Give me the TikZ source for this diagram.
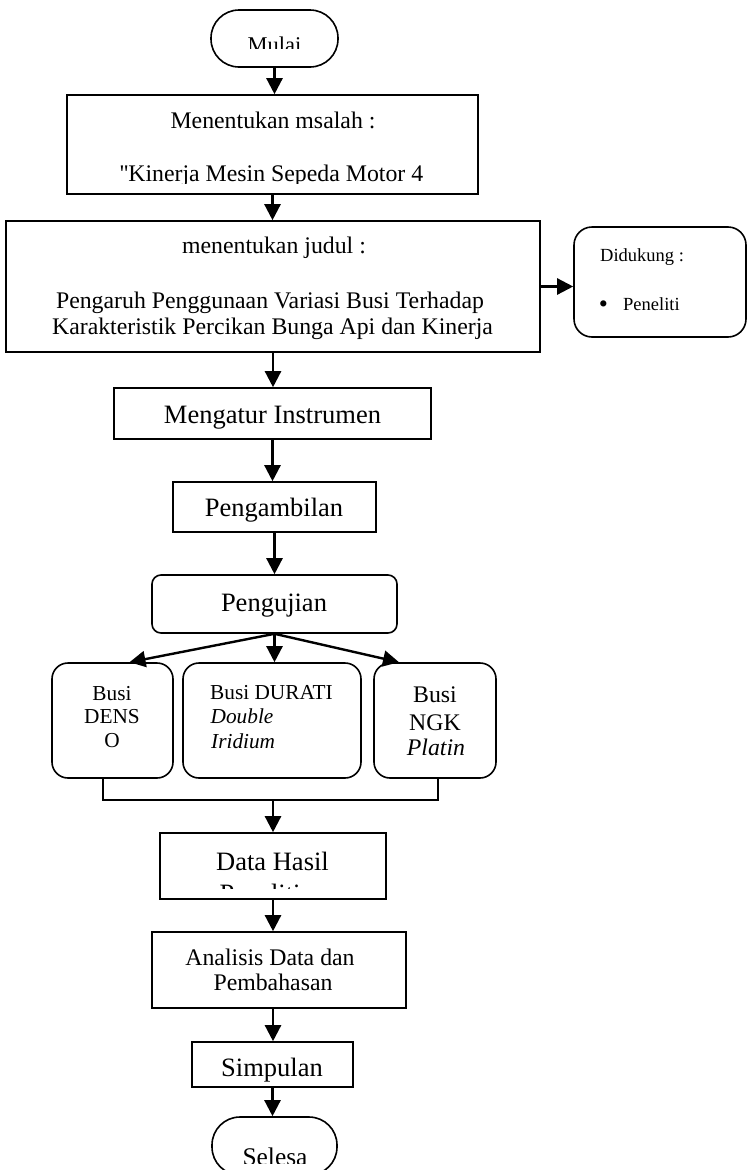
\documentclass[tikz,border=0pt]{standalone}
\usepackage{fontspec}
\setmainfont{Liberation Serif}
\newfontfamily\rawserif{Liberation Serif}
\usetikzlibrary{arrows.meta}
\newcommand\fsz[1]{\fontsize{#1pt}{#1pt}\selectfont}
\begin{document}
\begin{tikzpicture}[x=1pt,y=-1pt,
  box/.style={draw, line width=1.6pt, inner sep=0pt},
  rbox/.style={box, rounded corners=#1},
  arr/.style={line width=2.4pt, -{Triangle[length=16pt,width=16pt]}},
  link/.style={line width=1.8pt},
  tx/.style={inner sep=0pt, anchor=base},
  txl/.style={inner sep=0pt, anchor=base west},
  fa/.style={font=\fsz{23.8}},
  fb/.style={font=\fsz{26.5}},
  fc/.style={font=\fsz{21.3}},
  fd/.style={font=\fsz{18.5}},
]
\useasboundingbox (0,0) rectangle (747,1170);
\clip (0,0) rectangle (747,1170);

% ---- boxes ----
\node[rbox=28pt, minimum width=127pt, minimum height=57pt] (mulai) at (274.5,38.5) {};
\node[box, minimum width=411pt, minimum height=99pt] (masalah) at (272.5,144.5) {};
\node[box, minimum width=534pt, minimum height=131pt] (judul) at (273,286.5) {};
\node[rbox=18pt, minimum width=172pt, minimum height=110pt] (dukung) at (660,282) {};
\node[box, minimum width=317pt, minimum height=51pt] (instrumen) at (272.5,413.5) {};
\node[box, minimum width=203pt, minimum height=50pt] (ambil) at (274.5,507) {};
\node[rbox=9pt, minimum width=245pt, minimum height=58pt] (uji) at (274.5,604) {};
\node[rbox=16pt, minimum width=121pt, minimum height=115pt] (denso) at (112.5,720.5) {};
\node[rbox=16pt, minimum width=178pt, minimum height=115pt] (durati) at (272,720.5) {};
\node[rbox=16pt, minimum width=122pt, minimum height=115pt] (ngk) at (435,720.5) {};
\node[box, minimum width=226pt, minimum height=66pt] (data) at (273,866) {};
\node[box, minimum width=254pt, minimum height=76pt] (analisis) at (279,970) {};
\node[box, minimum width=161pt, minimum height=45pt] (simpulan) at (272.5,1064.5) {};
\node[rbox=28pt, minimum width=125pt, minimum height=58pt] (selesai) at (274.5,1146) {};

% ---- texts ----
\begin{scope}
  \clip (211,10) rectangle (338,48.5);
  \node[tx, font=\fsz{22.5}] (tmulai) at (274.5,52.4) {Mulai};
\end{scope}
\node[tx, fa] (tmas1) at (273,128) {Menentukan msalah :};
\begin{scope}
  \clip (67,95) rectangle (478,183.5);
  \node[tx, fa] (tmas2) at (271.5,181.5) {{\rawserif ''}Kinerja Mesin Sepeda Motor 4};
\end{scope}
\node[tx, fa] (tjud1) at (274,253) {menentukan judul :};
\node[tx, fa] (tjud2) at (270,308) {Pengaruh Penggunaan Variasi Busi Terhadap};
\node[tx, fa] (tjud3) at (272.5,334) {Karakteristik Percikan Bunga Api dan Kinerja};
\node[txl, fd] (tduk1) at (600,261.5) {Didukung :};
\node[tx, font=\fsz{26}] (tduk2) at (603.5,312) {\textbullet};
\node[txl, fd] (tduk3) at (623,310) {Peneliti};
\node[tx, fb] (tins) at (272.5,423.3) {Mengatur Instrumen};
\node[tx, fb] (tamb) at (274,516.7) {Pengambilan};
\node[tx, fb] (tuji) at (274,611.7) {Pengujian};
\node[tx, fc] (tden1) at (112,700) {Busi};
\node[tx, fc] (tden2) at (112,723.3) {DENS};
\node[tx, fc] (tden3) at (112,747.3) {O};
\node[txl, fc] (tdur1) at (210,699.3) {Busi DURATI};
\node[txl, fc] (tdur2) at (210.5,723.3) {\textit{Double}};
\node[txl, fc] (tdur3) at (211,748.3) {\textit{Iridium}};
\node[tx, fa] (tngk1) at (435,702.7) {Busi};
\node[tx, fa] (tngk2) at (435,730) {NGK};
\node[tx, fa] (tngk3) at (436,755) {\textit{Platin}};
\node[tx, fb] (tdat1) at (272.5,870) {Data Hasil};
\begin{scope}
  \clip (160,833) rectangle (386,888.5);
  \node[tx, fb] (tdat2) at (272.5,902) {Penelitian};
\end{scope}
\node[tx, fa] (tana1) at (270,965) {Analisis Data dan};
\node[tx, fa] (tana2) at (273,990) {Pembahasan};
\node[tx, fb] (tsim) at (272,1076.7) {Simpulan};
\begin{scope}
  \clip (212,1117) rectangle (337,1163.5);
  \node[tx, font=\fsz{25.4}] (tsel) at (275,1165) {Selesa};
\end{scope}

% ---- connectors ----
\draw[arr] (mulai.south) -- (mulai.south |- masalah.north);
\draw[arr] (masalah.south) -- (masalah.south |- judul.north);
\draw[arr] (judul.east) -- (judul.east -| dukung.west);
\draw[arr] (judul.south) -- (judul.south |- instrumen.north);
\draw[arr] (instrumen.south) -- (instrumen.south |- ambil.north);
\draw[arr] (ambil.south) -- (ambil.south |- uji.north);
\draw[arr] (uji.south) -- ([xshift=17pt]denso.north);
\draw[arr] (uji.south) -- (uji.south |- durati.north);
\draw[arr] (uji.south) -- ([xshift=-36pt]ngk.north);
\coordinate (join) at (273,800);
\draw[link] ([xshift=-9.5pt]denso.south) |- (join);
\draw[link] ([xshift=3pt]ngk.south) |- (join);
\draw[arr] (join) -- (join |- data.north);
\draw[arr] (data.south) -- (data.south |- analisis.north);
\draw[arr] (analisis.south -| data.south) -- (data.south |- simpulan.north);
\draw[arr] (simpulan.south) -- (simpulan.south |- selesai.north);
\end{tikzpicture}
\end{document}
